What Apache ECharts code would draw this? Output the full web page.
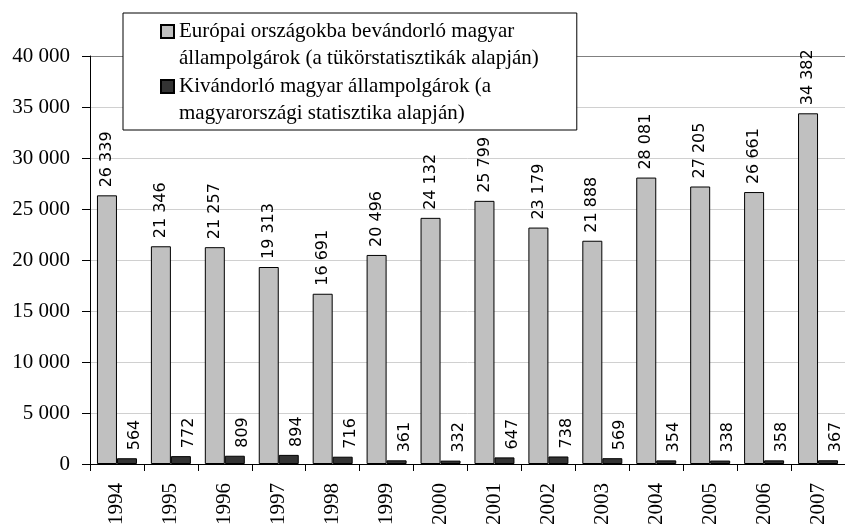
<!DOCTYPE html>
<html>
<head>
<meta charset="utf-8">
<script src="https://cdn.jsdelivr.net/npm/echarts@6/dist/echarts.min.js"></script>
<style>
  html, body { margin: 0; padding: 0; background: #fff; }
  #chart { width: 845px; height: 528px; }
</style>
</head>
<body>
<div id="chart"></div>
<script>
// years on the x axis
const years = ["1994", "1995", "1996", "1997", "1998", "1999", "2000",
  "2001", "2002", "2003", "2004", "2005", "2006", "2007"];
// mirror statistics (grey bars)
const mirrorStats = [26339, 21346, 21257, 19313, 16691, 20496, 24132,
  25799, 23179, 21888, 28081, 27205, 26661, 34382];
// Hungarian statistics (dark bars)
const hungarianStats = [564, 772, 809, 894, 716, 361, 332,
  647, 738, 569, 354, 338, 358, 367];
const seriesNames = [
  "Európai országokba bevándorló magyar\nállampolgárok (a tükörstatisztikák alapján)",
  "Kivándorló magyar állampolgárok (a\nmagyarországi statisztika alapján)",
];

const serif = "'Liberation Serif', 'Times New Roman', serif";

// 12345 -> "12 345"
function fmt(v) {
  return String(v).replace(/\B(?=(\d{3})+(?!\d))/g, " ");
}

// square at the top, empty move at the bottom so the icon sits on the first text line
const legendIcon = "path://M0,0L13,0L13,13L0,13Z M0,40";

const chart = echarts.init(document.getElementById("chart"), null, { renderer: "canvas" });

chart.setOption({
  animation: false,
  backgroundColor: "#fff",
  legend: {
    left: 123,
    top: 13,
    orient: "vertical",
    backgroundColor: "#fff",
    borderColor: "#000",
    borderWidth: 1,
    padding: [5, 38, 3, 37],
    itemGap: 1,
    itemWidth: 13,
    itemHeight: 40,
    icon: legendIcon,
    textStyle: {
      fontFamily: serif,
      fontSize: 21,
      lineHeight: 27,
      color: "#000",
    },
  },
  grid: {
    left: 90,
    right: -1,
    top: 56,
    bottom: 62,
  },
  xAxis: {
    type: "category",
    data: years,
    axisLine: { lineStyle: { color: "#000", width: 1 } },
    axisTick: { show: true, length: 7, lineStyle: { color: "#000" } },
    axisLabel: {
      rotate: 90,
      margin: 19,
      color: "#000",
      fontFamily: serif,
      fontSize: 21,
    },
  },
  yAxis: {
    type: "value",
    min: 0,
    max: 40000,
    interval: 5000,
    axisLine: { show: true, lineStyle: { color: "#000", width: 1 } },
    axisTick: { show: true, length: 8, lineStyle: { color: "#000" } },
    axisLabel: {
      margin: 20,
      color: "#000",
      fontFamily: serif,
      fontSize: 21,
      formatter: fmt,
    },
    splitLine: {
      show: true,
      lineStyle: {
        color: ["#d0d0d0", "#d0d0d0", "#d0d0d0", "#d0d0d0", "#d0d0d0",
          "#d0d0d0", "#d0d0d0", "#d0d0d0", "#808080"],
        width: 1,
      },
    },
  },
  series: [
    {
      name: seriesNames[0],
      type: "bar",
      data: mirrorStats,
      barWidth: 20,
      barGap: "0%",
      itemStyle: { color: "#c0c0c0", borderColor: "#000", borderWidth: 1 },
      label: {
        show: true,
        position: "top",
        distance: 8,
        rotate: 90,
        align: "left",
        verticalAlign: "middle",
        color: "#000",
        fontFamily: "'DejaVu Sans', sans-serif",
        fontSize: 16,
        formatter: (p) => fmt(p.value),
      },
    },
    {
      name: seriesNames[1],
      type: "bar",
      data: hungarianStats,
      barWidth: 20,
      barGap: "0%",
      itemStyle: { color: "#333333", borderColor: "#000", borderWidth: 1 },
      label: {
        show: true,
        position: "top",
        distance: 8,
        rotate: 90,
        align: "left",
        verticalAlign: "top",
        color: "#000",
        fontFamily: "'DejaVu Sans', sans-serif",
        fontSize: 16,
        formatter: (p) => fmt(p.value),
      },
    },
  ],
});
</script>
</body>
</html>
